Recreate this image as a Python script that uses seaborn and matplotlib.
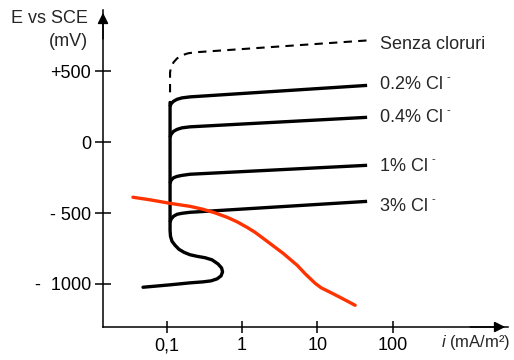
import numpy as np
import pandas as pd
import matplotlib
matplotlib.use("Agg")
import matplotlib.pyplot as plt
import seaborn as sns

# ---- data ----
senza_i = [0.1107, 0.1107, 0.1140, 0.1230, 0.1371, 0.1596, 0.1919, 0.2377, 47.1]
senza_E = [350, 491, 526, 561, 589, 611, 625, 632, 716]

trunk_i = [0.1107, 0.1107, 0.1122, 0.1175, 0.1288, 0.1455, 0.1698, 0.2037, 0.2523, 0.3228,
           0.3999, 0.4797, 0.5346, 0.5508, 0.5260, 0.4656, 0.3873, 0.3034, 0.2037, 0.1107, 0.0484]
trunk_E = [279, -622, -664, -699, -727, -756, -777, -794, -805, -815,
           -830, -859, -887, -915, -943, -964, -978, -985, -992, -1006, -1023]

branch_i = [0.1107, 0.1140, 0.1230, 0.1371, 0.1596, 0.2037, 45.7]
c02_E = [251, 269, 287, 301, 311, 318, 399]
c04_E = [33, 54, 75, 89, 100, 107, 174]
c1_E = [-291, -270, -252, -242, -235, -227, -164]
c3_E = [-565, -544, -523, -509, -502, -495, -418]

red_i = [0.0356, 0.0600, 0.1107, 0.2037, 0.3034, 0.4375, 0.6324, 0.8590, 1.164, 1.489, 1.901,
         2.582, 3.508, 4.345, 5.383, 6.876, 9.333, 11.22, 13.87, 20.0, 31.7]
red_E = [-389, -407, -432, -453, -474, -499, -530, -562, -601, -636, -678,
         -731, -784, -826, -868, -928, -995, -1027, -1051, -1094, -1150]

labels = ["Senza cloruri", "0.2% Cl", "0.4% Cl", "1% Cl", "3% Cl"]
label_sup = ["", "-", "-", "-", "-"]
label_E = [688, 406, 174, -171, -453]
label_i = 68

yticks = [500, 0, -500, -1000]
ytick_labels = ["+500", "0", "- 500", "-  1000"]
xticks = [0.1, 1, 10, 100]
xtick_labels = ["0,1", "1", "10", "100"]

# ---- style ----
sns.set_style("white")
plt.rcParams["font.family"] = ["Liberation Sans", "DejaVu Sans"]
plt.rcParams["mathtext.fontset"] = "custom"
plt.rcParams["mathtext.rm"] = "Liberation Sans"
plt.rcParams["mathtext.it"] = "Liberation Sans:italic"

FS = 13
fig = plt.figure(figsize=(5.14, 3.60), dpi=100)
ax = fig.add_axes([103 / 514, 33 / 360, 405 / 514, 317 / 360])

lw = 2.4
sns.lineplot(x=senza_i, y=senza_E, sort=False, estimator=None, ax=ax, color="black", lw=1.5,
             linestyle=(0, (4, 3)))
sns.lineplot(x=trunk_i, y=trunk_E, sort=False, estimator=None, ax=ax, color="black", lw=lw)
for yi in [c02_E, c04_E, c1_E, c3_E]:
    sns.lineplot(x=branch_i, y=yi, sort=False, estimator=None, ax=ax, color="black", lw=lw,
                 solid_capstyle="butt", solid_joinstyle="round")
sns.lineplot(x=red_i, y=red_E, sort=False, estimator=None, ax=ax, color="#ff3300", lw=2.4)

for lab, sup, e in zip(labels, label_sup, label_E):
    t = ax.text(label_i, e, lab, fontsize=FS, va="center", ha="left")
    if sup:
        ax.annotate(sup, xy=(1, 0), xycoords=t, xytext=(2.5, 9.0), textcoords="offset points",
                    fontsize=8, ha="left", va="baseline")

ax.set_xscale("log")
ax.set_xlim(10 ** -1.846, 10 ** 3.53)
ax.set_ylim(-1303, 930)

ax.set_yticks(yticks)
ax.set_yticklabels(ytick_labels, fontsize=FS)
ax.set_xticks(xticks)
ax.set_xticklabels(xtick_labels, fontsize=FS)
ax.minorticks_off()
ax.tick_params(axis="y", which="major", left=True, direction="inout", length=11, width=1.1,
               pad=3, colors="black")
ax.tick_params(axis="x", which="major", bottom=True, direction="inout", length=9, width=1.1,
               pad=3, colors="black")

for s in ["top", "right"]:
    ax.spines[s].set_visible(False)
for s in ["left", "bottom"]:
    ax.spines[s].set_color("black")
    ax.spines[s].set_linewidth(1.1)

ax.annotate("", xy=(0, 1), xytext=(0, 0.9), xycoords="axes fraction",
            arrowprops=dict(arrowstyle="-|>", color="black", lw=1.1, mutation_scale=16))
ax.annotate("", xy=(1, 0), xytext=(0.9, 0), xycoords="axes fraction",
            arrowprops=dict(arrowstyle="-|>", color="black", lw=1.1, mutation_scale=16))

ax.set_xlabel("")
ax.set_ylabel("")
fig.text(88 / 514, 1 - 10 / 360, "E vs SCE\n(mV)", fontsize=FS, ha="right", va="top",
         multialignment="right", linespacing=1.45)
fig.text(441 / 514, 1 - 343 / 360, r"$i$ (mA/m²)", fontsize=12, ha="left", va="center")

fig.savefig("out.png", dpi=100)
